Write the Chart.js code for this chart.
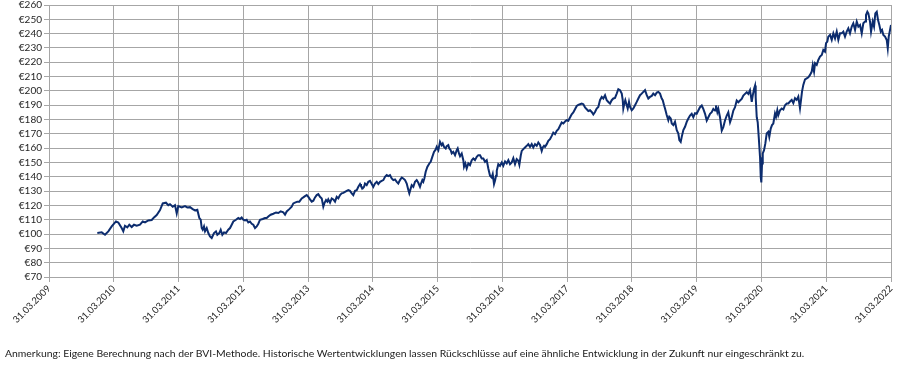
<!DOCTYPE html>
<html>
<head>
<meta charset="utf-8">
<script src="https://cdn.jsdelivr.net/npm/chart.js@4.4.1/dist/chart.umd.min.js"></script>
<style>
	body { margin: 0; background: #fff; }
	#wrap { position: relative; width: 899px; height: 365px; }
	#note { position: absolute; left: 5px; top: 346px; font: 10.4px Lato, sans-serif; line-height: 14px; color: #1a1a1a; white-space: nowrap; }
</style>
</head>
<body>
<div id="wrap">
	<canvas id="mycanvas" width="899" height="365"></canvas>
	<div id="note">Anmerkung: Eigene Berechnung nach der BVI-Methode. Historische Wertentwicklungen lassen Rückschlüsse auf eine ähnliche Entwicklung in der Zukunft nur eingeschränkt zu.</div>
</div>
<script>
// tick labels (x axis runs in decimal years, 31.03.2009 = 2009.25)
var xTickLabels = ['31.03.2009','31.03.2010','31.03.2011','31.03.2012','31.03.2013','31.03.2014','31.03.2015','31.03.2016','31.03.2017','31.03.2018','31.03.2019','31.03.2020','31.03.2021','31.03.2022'];
var yMin = 70, yMax = 260, yStep = 10;

// fund value in EUR, one pair of arrays per stretch
var dates1 = [2009.996,2010.064,2010.115,2010.166,2010.218,2010.284,2010.320,2010.372,2010.397,2010.423,2010.459,2010.490,2010.527,2010.562,2010.604,2010.655,2010.697,2010.732,2010.783,2010.836,2010.871,2010.913,2010.964,2011.006,2011.056,2011.092,2011.118,2011.160,2011.195,2011.222,2011.246,2011.299,2011.350,2011.385];
var values1 = [100.7,101.2,99.5,101.9,105.3,108.8,108.1,104.2,101.9,105.8,104.7,106.5,104.9,106.5,105.8,106.5,108.8,108.1,109.5,109.8,111.6,113.3,116.7,121.4,121.9,120.2,120.9,119.1,120.2,114.4,119.5,118.6,119.5,118.6];

var dates2 = [2011.427,2011.469,2011.504,2011.540,2011.571,2011.592,2011.608,2011.623,2011.643,2011.659,2011.685,2011.710,2011.736,2011.762,2011.778,2011.798,2011.828,2011.849,2011.879,2011.901,2011.926,2011.952,2011.983,2012.018,2012.045,2012.071,2012.096,2012.137,2012.173,2012.199,2012.225,2012.250,2012.276,2012.302,2012.327,2012.353,2012.380,2012.404,2012.431,2012.457,2012.482,2012.508,2012.550,2012.585,2012.611,2012.636,2012.673,2012.713,2012.755,2012.790,2012.827,2012.868,2012.894,2012.920,2012.960];
var values2 = [118.8,117.4,116.5,117,111.2,110,104.2,103,105.3,101.9,104.2,100.7,98.4,97.2,98.8,100.7,101.9,99.5,100.7,103,99.5,101.2,100.7,103,104.2,106.5,108.8,110,111.2,110.5,111.6,110,109.5,110,108.1,108.8,107.2,106.5,104.2,105.3,107.2,110,110.5,111.2,111.2,112.3,113.5,114.2,115.1,114.7,115.8,115.1,113.5,115.8,117.4];

var dates3 = [2012.997,2013.022,2013.048,2013.084,2013.115,2013.152,2013.176,2013.203,2013.229,2013.254,2013.280,2013.306,2013.331,2013.357,2013.383,2013.408,2013.434,2013.461,2013.485,2013.501,2013.527,2013.547,2013.562,2013.589,2013.615,2013.640,2013.666,2013.692,2013.717,2013.743,2013.769,2013.794,2013.820,2013.847,2013.871,2013.897,2013.924,2013.948,2013.975,2014.001,2014.026,2014.052,2014.067,2014.094,2014.114,2014.129,2014.155,2014.180,2014.206,2014.233,2014.257,2014.283,2014.310,2014.334,2014.361,2014.387,2014.412,2014.438,2014.464,2014.489];
var values3 = [119.1,121.4,121.9,122.6,122.6,124.9,125.6,126.5,127.2,126,124.2,122.6,123.3,125.6,127.2,127.9,126,124.9,119.1,121.4,123.7,122.6,124.2,121.9,124.9,124.2,122.6,126,124.9,127.2,128.4,128.8,129.5,130.2,130.7,130.2,128.4,127.2,130.2,130.7,133,134.9,133.5,131.9,133,135.3,134.2,136.5,137.2,134.9,133,135.3,136.5,134.9,136.5,137.2,137.7,140,141.2,140.5];

var dates4 = [2014.515,2014.541,2014.566,2014.592,2014.619,2014.643,2014.669,2014.696,2014.720,2014.747,2014.773,2014.798,2014.813,2014.835,2014.850,2014.875,2014.901,2014.927,2014.952,2014.978,2014.994,2015.014,2015.029,2015.045,2015.066,2015.091,2015.122,2015.143,2015.168,2015.194,2015.221,2015.236,2015.261,2015.287,2015.313,2015.329,2015.349,2015.375,2015.391,2015.415,2015.431,2015.452,2015.468,2015.492,2015.519,2015.545,2015.560,2015.580,2015.596,2015.622,2015.647,2015.658,2015.678,2015.699,2015.724,2015.750,2015.777,2015.801,2015.827,2015.854,2015.878,2015.905,2015.931,2015.956,2015.982,2016.008,2016.033];
var values4 = [141.2,138.8,137.7,138.1,136.5,135.3,137.7,139.5,138.8,137.7,135.3,130.7,128.4,131.9,134.2,133,136.5,137.7,135.8,133,135.3,137.7,136.5,138.8,143.5,146.9,149.3,150.5,153.9,157.4,159.1,160.9,158.6,164.4,162.1,163.3,160.9,159.8,161.4,162.1,159.8,158.6,156.3,157.4,155.1,158.6,159.8,156.3,154.4,156.3,151.6,147,149.3,145.8,149.3,148.1,151.6,152.8,151.6,153.9,155.1,155.1,152.8,152.8,150.5,151.6,145.8];

var dates5 = [2016.059,2016.085,2016.101,2016.121,2016.136,2016.152,2016.163,2016.187,2016.213,2016.240,2016.264,2016.291,2016.317,2016.342,2016.368,2016.394,2016.419,2016.445,2016.471,2016.496,2016.512,2016.533,2016.549,2016.573,2016.599,2016.626,2016.650,2016.677,2016.703,2016.727,2016.754,2016.780,2016.805,2016.831,2016.857,2016.873,2016.893,2016.908,2016.935,2016.959,2016.985,2017.012,2017.036,2017.063,2017.089,2017.114,2017.140,2017.166,2017.191,2017.217,2017.243,2017.268,2017.294,2017.320,2017.345,2017.371,2017.398,2017.422,2017.449,2017.475,2017.500,2017.526,2017.552,2017.577];
var values5 = [140.7,139.5,141.9,134.9,137.2,140.7,144.2,148.8,147.7,150,147.7,150.7,149.3,151.6,148.8,150,153,148.8,152.3,151.2,148.4,154.7,158.1,159.3,160.5,161.6,162.8,160.9,162.8,160.5,162.8,161.6,164,162.3,158.1,160.5,161.6,160.9,162.8,165.1,166.3,168.6,170.9,169.8,172.1,173.3,175.6,177.9,177.2,178.6,179.5,179.1,181.4,183.7,184.9,187.2,189.5,190.2,190.7,191.2,190.7,188.4,187.2,186];

var dates6 = [2017.603,2017.629,2017.654,2017.680,2017.706,2017.731,2017.757,2017.784,2017.808,2017.835,2017.861,2017.886,2017.912,2017.938,2017.963,2017.989,2018.015,2018.040,2018.066,2018.093,2018.108,2018.117,2018.133,2018.148,2018.170,2018.185,2018.205,2018.221,2018.247,2018.272,2018.298,2018.324,2018.349,2018.375,2018.401,2018.426,2018.452,2018.479,2018.503,2018.529,2018.556,2018.580,2018.607,2018.633,2018.658,2018.684,2018.710,2018.726,2018.746,2018.761,2018.787,2018.812,2018.827,2018.849,2018.865,2018.889,2018.915,2018.942,2018.967,2018.982,2019.003,2019.019,2019.044,2019.070,2019.096,2019.121];
var values6 = [186.5,185.3,183.5,185.3,187.7,188.8,193.5,195.8,194.7,197,193.5,192.3,191.2,193.5,194.7,195.1,198.1,201.2,200.5,198.1,193.5,187.7,191.2,193.5,190,187.7,192.3,188.8,186.5,187.7,190,192.3,194.7,197,198.1,199.3,200.5,197,194.7,195.8,196.5,198.1,197,198.8,199.3,198.1,194.7,193.5,190,187.7,183.1,179.5,181.9,180.7,177.2,176.1,178.4,172.6,170.2,165.6,164.4,167.9,172.6,174.9,178.4,180.7];

var dates7 = [2019.147,2019.173,2019.198,2019.224,2019.250,2019.275,2019.301,2019.328,2019.352,2019.379,2019.405,2019.430,2019.456,2019.482,2019.507,2019.533,2019.548,2019.569,2019.584,2019.610,2019.637,2019.661,2019.687,2019.714,2019.738,2019.765,2019.791,2019.816,2019.842,2019.868,2019.893,2019.919,2019.945,2019.970,2019.996,2020.023,2020.047,2020.073,2020.089,2020.100,2020.115,2020.135,2020.151,2020.161,2020.177,2020.192,2020.208,2020.228,2020.239,2020.248,2020.259,2020.270,2020.290,2020.310,2020.331,2020.356,2020.371,2020.393,2020.413,2020.433,2020.459,2020.475,2020.495,2020.510,2020.537,2020.563,2020.588,2020.614,2020.640,2020.665];
var values7 = [182.8,184,181.6,184.4,184,186.3,188.6,189.8,187.4,184,179.3,181.6,184,185.1,187.4,186.3,189.8,185.1,187.4,181.6,172.3,174.7,179.3,182.8,185.1,178.1,181.6,186.3,188.6,193.3,192.1,193.3,194.4,196.7,197.9,199.1,197.9,200.5,195.8,192.3,196.7,201.4,203.7,195.6,181.6,178.1,167.7,153.7,139.8,136,149.3,156.3,158.6,163.3,170.2,171.4,167.9,173.7,176.1,177.2,184.2,181.9,186.5,183,186.5,187.7,187,190,191.2,191.2];

var dates8 = [2020.691,2020.717,2020.742,2020.768,2020.794,2020.819,2020.845,2020.861,2020.876,2020.896,2020.923,2020.949,2020.974,2021.000,2021.026,2021.042,2021.062,2021.077,2021.103,2021.128,2021.154,2021.181,2021.205,2021.231,2021.247,2021.267,2021.282,2021.309,2021.335,2021.360,2021.386,2021.412,2021.437,2021.463,2021.489,2021.514,2021.540,2021.566,2021.591,2021.617,2021.644,2021.668,2021.695,2021.721,2021.746,2021.772,2021.798,2021.823,2021.849,2021.864,2021.885,2021.900,2021.926,2021.942,2021.968,2021.988,2022.008,2022.030,2022.050,2022.070,2022.092,2022.112,2022.132,2022.158,2022.184,2022.200,2022.215,2022.235,2022.250];
var values8 = [192.6,193.7,191.4,194.9,193.7,196,187.9,193.7,199.5,204.2,208.1,208.8,209.5,211.2,213.5,218.1,213.5,219.3,218.1,221.6,224,225.1,228.6,227.4,233.3,234.4,237.9,239.1,235.6,240.2,236.7,241.4,235.6,240.2,240.2,241.4,237.9,241.4,243.7,240.2,244.9,247.2,242.6,248.4,244.9,246,240.2,247.2,248.4,253,255.3,254.2,248.4,241.4,248.4,244.9,254.2,255.3,249.5,246,241.4,242.6,239.1,237.9,235.6,229.8,237.9,242.6,246];

var allDates = [].concat(dates1, dates2, dates3, dates4, dates5, dates6, dates7, dates8);
var allValues = [].concat(values1, values2, values3, values4, values5, values6, values7, values8);

var points = [];
for (var i = 0; i < allDates.length; i++) {
	points.push({x: allDates[i], y: allValues[i]});
}

var gridColor = '#a6a6a6';

var chartdata = {
	datasets: [
		{
			label: 'Fonds',
			data: points,
			borderColor: '#0c2c6e',
			borderWidth: 2,
			pointRadius: 0,
			fill: false,
			tension: 0
		}
	]
};

var ctx = document.getElementById('mycanvas');

var lineGraph = new Chart(ctx, {
	type: 'line',
	data: chartdata,
	options: {
		responsive: false,
		animation: false,
		devicePixelRatio: 1,
		layout: {padding: {top: 5, right: 8, bottom: 28, left: 5}},
		plugins: {legend: {display: false}, tooltip: {enabled: false}},
		scales: {
			x: {
				type: 'linear',
				min: 2009.25,
				max: 2022.25,
				grid: {color: gridColor, tickLength: 5},
				border: {color: gridColor},
				ticks: {
					stepSize: 1,
					autoSkip: false,
					minRotation: 45,
					maxRotation: 45,
					padding: 1,
					color: '#262626',
					font: {family: 'Lato, sans-serif', size: 9.5},
					callback: function(value, index) { return xTickLabels[index]; }
				},
				afterFit: function(scale) {
					scale.height = 60;
					scale.paddingLeft = 0;
					scale.paddingRight = 0;
				}
			},
			y: {
				min: yMin,
				max: yMax,
				grid: {color: gridColor, tickLength: 5},
				border: {color: gridColor},
				ticks: {
					stepSize: yStep,
					autoSkip: false,
					padding: 2,
					color: '#262626',
					font: {family: 'Lato, sans-serif', size: 10},
					callback: function(value) { return '€' + value; }
				},
				afterFit: function(scale) {
					scale.width = 44;
					scale.paddingTop = 0;
					scale.paddingBottom = 0;
				}
			}
		}
	}
});
</script>
</body>
</html>
